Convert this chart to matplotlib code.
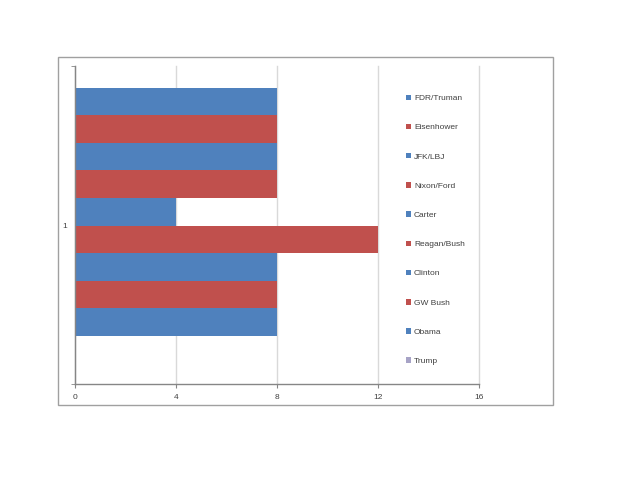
import matplotlib
matplotlib.use("Agg")
import matplotlib.pyplot as plt
from matplotlib.patches import Patch, Rectangle

# # Data

presidents = ["FDR/Truman", "Eisenhower", "JFK/LBJ", "Nixon/Ford", "Carter",
              "Reagan/Bush", "Clinton", "GW Bush", "Obama", "Trump"]
values = [8, 8, 8, 8, 4, 12, 8, 8, 8, 0]
category_label = ["1"]
x_ticks = [0, 4, 8, 12, 16]

BLUE = "#4F81BD"
RED = "#C0504D"
PURPLE = "#A7A3C6"
bar_colors = [BLUE, RED, BLUE, RED, BLUE, RED, BLUE, RED, BLUE, PURPLE]

plt.rcParams['font.family'] = ['Liberation Sans', 'DejaVu Sans']

# # Figure

fig = plt.figure(figsize=(6.4, 4.95), dpi=100)
fig.patch.set_facecolor("white")

# outer chart border (Excel chart area)
fig.patches.append(Rectangle((58 / 640, 1 - 405 / 495), 495 / 640, 348 / 495,
                             transform=fig.transFigure, fill=False,
                             edgecolor="#A0A0A0", linewidth=1.0))

ax = fig.add_axes([75 / 640, 1 - 384 / 495, 404 / 640, 318 / 495])

# one bar per series, first series on top
positions = list(range(len(presidents)))
ax.barh(positions, values, height=1.0, color=bar_colors, zorder=3)

ax.set_xlim(0, 16)
ax.set_ylim(10.24, -1.28)

ax.set_xticks(x_ticks)
ax.set_xticklabels([str(t) for t in x_ticks])
ax.xaxis.grid(True, color="#D9D9D9", linewidth=1.0, zorder=0)
for gl in ax.get_xgridlines():
    gl.set_clip_on(False)

# single category label, ticks at category boundaries
ax.set_yticks([(10.24 - 1.28) / 2])
ax.set_yticklabels(category_label)
ax.set_yticks([10.24, -1.28], minor=True)
ax.tick_params(axis="y", which="major", length=0, pad=6)
ax.tick_params(axis="y", which="minor", length=3, color="#868686", direction="out")
ax.tick_params(axis="x", length=3, color="#868686", direction="out", pad=4)
ax.tick_params(labelsize=6, labelcolor="#404040")

for side in ["top", "right"]:
    ax.spines[side].set_visible(False)
for side in ["left", "bottom"]:
    ax.spines[side].set_color("#868686")
    ax.spines[side].set_linewidth(1.0)
    ax.spines[side].set_zorder(4)

# # Legend

handles = [Patch(facecolor=c, edgecolor="none") for c in bar_colors]
leg = fig.legend(handles, presidents, loc="upper left",
                 bbox_to_anchor=(406 / 640, 1 - 94.5 / 495),
                 frameon=False, fontsize=6, labelcolor="#404040",
                 handlelength=0.65, handleheight=0.65, handletextpad=0.3,
                 labelspacing=2.58, borderpad=0, borderaxespad=0)

plt.savefig("out.png", dpi=100)
